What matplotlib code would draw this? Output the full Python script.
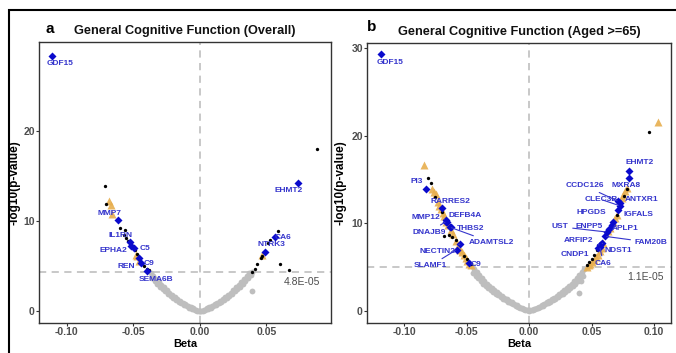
import matplotlib
matplotlib.use("Agg")
import matplotlib.pyplot as plt
from matplotlib.patches import Rectangle

plt.rcParams['font.family'] = ['Liberation Sans', 'DejaVu Sans']

# ---------------- panel a : overall ----------------
a_gray_beta = [-0.037, -0.035, -0.033, -0.031, -0.029, -0.027, -0.025, -0.023, -0.021, -0.019,
               -0.017, -0.015, -0.013, -0.011, -0.009, -0.007, -0.005, -0.003, -0.001, 0.001,
               0.003, 0.005, 0.007, 0.009, 0.011, 0.013, 0.015, 0.017, 0.019, 0.021, 0.023,
               0.025, 0.027, 0.029, 0.031, 0.033, 0.035, 0.037, 0.039,
               -0.036, -0.034, -0.032, -0.030, -0.028, -0.026, -0.024, -0.022, -0.020, -0.018,
               -0.016, -0.014, -0.012, -0.010, -0.008, -0.006, -0.004, -0.002, 0.000, 0.002,
               0.004, 0.006, 0.008, 0.010, 0.012, 0.014, 0.016, 0.018, 0.020, 0.022, 0.024,
               0.026, 0.028, 0.030, 0.032, 0.034, 0.036, 0.038, 0.039]
a_gray_y = [4.25, 3.9, 3.55, 3.25, 2.95, 2.65, 2.35, 2.05, 1.8, 1.58,
            1.37, 1.16, 0.96, 0.78, 0.62, 0.46, 0.31, 0.18, 0.06, 0.06,
            0.18, 0.31, 0.46, 0.62, 0.78, 0.96, 1.16, 1.37, 1.58, 1.8, 2.05,
            2.35, 2.65, 2.95, 3.25, 3.55, 3.9, 4.2, 4.4,
            3.7, 3.35, 3.05, 2.75, 2.45, 2.2, 1.95, 1.7, 1.48, 1.28,
            1.08, 0.9, 0.72, 0.56, 0.42, 0.28, 0.16, 0.07, 0.02, 0.07,
            0.16, 0.28, 0.42, 0.56, 0.72, 0.9, 1.08, 1.28, 1.48, 1.7, 1.95,
            2.2, 2.45, 2.75, 3.05, 3.35, 3.7, 4.0, 2.3]

a_black_beta = [-0.0714, -0.0707, -0.060, -0.0564, -0.057, -0.0555, -0.054, -0.052, -0.049,
                -0.047, -0.0456, -0.0439, -0.042, -0.040, -0.0383,
                0.0877, 0.0589, 0.053, 0.0515, 0.047, 0.046, 0.0426, 0.0414, 0.0389,
                0.0602, 0.0672]
a_black_y = [13.9, 11.9, 9.2, 9.0, 8.5, 8.1, 7.8, 7.5, 6.8,
             6.4, 5.85, 5.2, 5.0, 4.7, 4.55,
             18.0, 8.9, 7.9, 7.6, 6.1, 5.95, 5.3, 4.7, 4.4,
             5.2, 4.6]

a_orange_beta = [-0.0684, -0.067, -0.0664, -0.048, -0.0476, -0.046, 0.0464]
a_orange_y = [12.25, 11.8, 10.85, 6.3, 6.1, 5.6, 6.2]

a_genes = ['GDF15', 'MMP7', 'IL1RN', 'EPHA2', 'C5', 'REN', 'C9', 'SEMA6B',
           'EHMT2', 'CA6', 'NTRK3']
a_gene_beta = [-0.111, -0.0614, -0.0526, -0.0515, -0.0494, -0.0456, -0.0440, -0.0395,
               0.0739, 0.0564, 0.0489]
a_gene_y = [28.4, 10.1, 7.7, 7.3, 7.0, 5.9, 5.4, 4.5, 14.3, 8.3, 6.6]
a_threshold = 4.32
a_threshold_text = '4.8E-05'

# ---------------- panel b : aged >= 65 ----------------
b_gray_beta = [-0.046, -0.044, -0.042, -0.040, -0.038, -0.036, -0.034, -0.032, -0.030, -0.028,
               -0.026, -0.024, -0.022, -0.020, -0.018, -0.016, -0.014, -0.012, -0.010, -0.008,
               -0.006, -0.004, -0.002, 0.000, 0.002, 0.004, 0.006, 0.008, 0.010, 0.012, 0.014,
               0.016, 0.018, 0.020, 0.022, 0.024, 0.026, 0.028, 0.030, 0.032, 0.034, 0.036,
               0.038, 0.040, 0.042, 0.044,
               -0.045, -0.043, -0.041, -0.039, -0.037, -0.035, -0.033, -0.031, -0.029, -0.027,
               -0.025, -0.023, -0.021, -0.019, -0.017, -0.015, -0.013, -0.011, -0.009, -0.007,
               -0.005, -0.003, -0.001, 0.001, 0.003, 0.005, 0.007, 0.009, 0.011, 0.013, 0.015,
               0.017, 0.019, 0.021, 0.023, 0.025, 0.027, 0.029, 0.031, 0.033, 0.035, 0.037,
               0.039, 0.041, 0.043, 0.0416, 0.040]
b_gray_y = [5.1, 4.75, 4.4, 4.05, 3.7, 3.4, 3.1, 2.85, 2.6, 2.35,
            2.1, 1.9, 1.7, 1.5, 1.3, 1.12, 0.95, 0.78, 0.62, 0.47,
            0.33, 0.2, 0.09, 0.02, 0.09, 0.2, 0.33, 0.47, 0.62, 0.78, 0.95,
            1.12, 1.3, 1.5, 1.7, 1.9, 2.1, 2.35, 2.6, 2.85, 3.1, 3.4,
            3.7, 4.05, 4.4, 4.8,
            4.3, 4.0, 3.7, 3.4, 3.1, 2.85, 2.6, 2.35, 2.15, 1.95,
            1.75, 1.55, 1.38, 1.2, 1.05, 0.9, 0.75, 0.6, 0.47, 0.35,
            0.24, 0.14, 0.05, 0.05, 0.14, 0.24, 0.35, 0.47, 0.6, 0.75, 0.9,
            1.05, 1.2, 1.38, 1.55, 1.75, 1.95, 2.15, 2.35, 2.6, 2.85, 3.1,
            3.4, 3.7, 4.0, 3.35, 2.05]

b_black_beta = [-0.081, -0.079, -0.0752, -0.070, -0.066, -0.064, -0.0615, -0.059, -0.068,
                -0.052, -0.050, -0.048, -0.047,
                0.0957, 0.0763, 0.078, 0.046, 0.048, 0.050, 0.052, 0.0545, 0.066, 0.070]
b_black_y = [15.2, 14.6, 13.0, 11.3, 10.0, 8.7, 8.4, 8.1, 8.6,
             6.3, 5.9, 5.5, 5.3,
             20.4, 13.1, 13.9, 5.2, 5.6, 5.9, 6.4, 6.9, 9.9, 11.0]

b_orange_beta = [-0.0845, -0.078, -0.0765, -0.075, -0.0735, -0.072, -0.0705, -0.0695, -0.068,
                 -0.0665, -0.065, -0.063, -0.061, -0.059, -0.057, -0.0555, -0.054, -0.0525,
                 -0.051, -0.0495, -0.048, -0.0465,
                 0.103, 0.0768, 0.078, 0.0755, 0.074, 0.070, 0.0685, 0.067, 0.065, 0.0635,
                 0.0595, 0.058, 0.0565, 0.055, 0.0535, 0.052, 0.0505, 0.049, 0.0475, 0.046]
b_orange_y = [16.7, 13.9, 13.6, 13.3, 12.4, 12.0, 11.6, 11.2, 10.8,
              10.2, 9.8, 9.2, 8.8, 8.0, 7.4, 7.0, 6.7, 6.4,
              6.0, 5.7, 5.4, 5.2,
              21.6, 13.7, 14.0, 13.2, 12.9, 11.0, 10.6, 10.1, 9.5, 9.1,
              7.8, 7.2, 6.8, 6.4, 6.1, 5.8, 5.6, 5.4, 5.2, 5.05]

b_genes = ['GDF15', 'PI3', 'RARRES2', 'MMP12', 'DEFB4A', 'DNAJB9', 'THBS2', 'ADAMTSL2',
           'NECTIN2', 'SLAMF1', 'C9',
           'EHMT2', 'MXRA8', 'CCDC126', 'ANTXR1', 'CLEC3B', 'IGFALS', 'HPGDS', 'APLP1',
           'ENPP5', 'UST', 'FAM20B', 'ARFIP2', 'NDST1', 'CNDP1', 'CA6']
b_gene_beta = [-0.119, -0.0827, -0.0700, -0.0670, -0.0655, -0.0665, -0.0630, -0.0635,
               -0.0557, -0.0580, -0.0485,
               0.080, 0.080, 0.0715, 0.073, 0.0725, 0.0715, 0.0675, 0.066,
               0.064, 0.062, 0.061, 0.0570, 0.0585, 0.0555, 0.0565]
b_gene_y = [29.3, 13.9, 11.7, 10.4, 10.1, 10.2, 9.6, 9.55,
            7.6, 7.0, 5.5,
            16.0, 15.2, 12.5, 12.3, 12.0, 11.5, 10.2, 9.8,
            9.3, 9.0, 8.5, 7.5, 7.7, 7.2, 7.3]
b_threshold = 4.96
b_threshold_text = '1.1E-05'

# label placement (text centre, data coords) -- layout, not data
a_label_pos = [(-0.105, 27.5), (-0.0677, 10.9), (-0.060, 8.45), (-0.0652, 6.7),
               (-0.0414, 6.95), (-0.0551, 5.0), (-0.0383, 5.3), (-0.033, 3.5),
               (0.0664, 13.4), (0.0622, 8.2), (0.0539, 7.45)]
b_label_pos = [(-0.1117, 28.4), (-0.090, 14.8), (-0.063, 12.5), (-0.083, 10.7),
               (-0.051, 10.9), (-0.0805, 9.0), (-0.047, 9.35), (-0.030, 7.8),
               (-0.0738, 6.8), (-0.079, 5.15), (-0.043, 5.3),
               (0.0885, 16.9), (0.0776, 14.3), (0.0442, 14.3), (0.090, 12.7),
               (0.058, 12.7), (0.0875, 11.0), (0.050, 11.2), (0.077, 9.45),
               (0.0483, 9.6), (0.0248, 9.6), (0.0976, 7.8), (0.0395, 8.05),
               (0.0715, 6.9), (0.0368, 6.4), (0.0595, 5.4)]
b_segments = ['MMP12', 'DNAJB9', 'ADAMTSL2', 'SLAMF1', 'NECTIN2', 'CCDC126', 'CLEC3B',
              'UST', 'FAM20B', 'ARFIP2', 'NDST1', 'CA6']

GRAY = '#BEBEBE'
ORANGE = '#E7AE4E'
BLUE = '#0A0ACC'
LABEL_BLUE = '#3535CC'
TXT = '#4D4D4D'


def draw_panel(ax, gb, gy, kb, ky, ob, oy, genes, gene_b, gene_y, lab_pos, segs,
               thr, thr_txt, txt_x, xlim, ylim, yticks, xticks, title):
    ax.axvline(0, color='#C4C4C4', lw=1.3, dashes=(4, 3), zorder=1)
    ax.axhline(thr, color='#C4C4C4', lw=1.3, dashes=(4, 3), zorder=1)
    ax.plot(gb, gy, 'o', color=GRAY, ms=4.2, mec='none', zorder=2)
    ax.plot(ob, oy, '^', color=ORANGE, ms=5.5, mec='none', alpha=0.9, zorder=3)
    ax.plot(kb, ky, 'o', color='black', ms=2.4, mec='none', zorder=4)
    ax.plot(gene_b, gene_y, 'D', color=BLUE, ms=4.4, mec='none', zorder=5)
    for g, b, y, (lx, ly) in zip(genes, gene_b, gene_y, lab_pos):
        if g in segs:
            ax.annotate(g, xy=(b, y), xytext=(lx, ly), fontsize=6, fontweight='bold',
                        color=LABEL_BLUE, ha='center', va='center', zorder=6,
                        arrowprops=dict(arrowstyle='-', color=LABEL_BLUE, lw=0.8,
                                        shrinkA=1, shrinkB=1))
        else:
            ax.text(lx, ly, g, fontsize=6, fontweight='bold', color=LABEL_BLUE,
                    ha='center', va='center', zorder=6)
    ax.text(txt_x, thr - 0.5, thr_txt, fontsize=7.5, color=TXT, ha='right', va='top')
    ax.set_xlim(xlim)
    ax.set_ylim(ylim)
    ax.set_xticks(xticks)
    ax.set_xticklabels(['%.2f' % t for t in xticks])
    ax.set_yticks(yticks)
    for s in ax.spines.values():
        s.set_color('#333333')
        s.set_linewidth(1.0)
    ax.tick_params(colors='#333333', labelcolor=TXT, labelsize=7.5, length=2,
                   width=0.8, pad=1)
    for lab in ax.get_xticklabels() + ax.get_yticklabels():
        lab.set_fontweight('bold')
    ax.set_xlabel('Beta', fontsize=8, fontweight='bold', labelpad=1)
    ax.set_ylabel('-log10(p-value)', fontsize=8.5, fontweight='bold')
    ax.set_title(title, fontsize=9.2, fontweight='bold', pad=6, color='#111111')


fig = plt.figure(figsize=(6.76, 3.53), dpi=100)
ax1 = fig.add_axes([39 / 676, 1 - 323 / 353, 292 / 676, 281 / 353])
ax2 = fig.add_axes([367 / 676, 1 - 323 / 353, 304 / 676, 280 / 353])

draw_panel(ax1, a_gray_beta, a_gray_y, a_black_beta, a_black_y, a_orange_beta, a_orange_y,
           a_genes, a_gene_beta, a_gene_y, a_label_pos, [], a_threshold, a_threshold_text,
           0.0905, (-0.121, 0.0985), (-1.3, 29.9), [0, 10, 20], [-0.10, -0.05, 0.00, 0.05],
           'General Cognitive Function (Overall)')
draw_panel(ax2, b_gray_beta, b_gray_y, b_black_beta, b_black_y, b_orange_beta, b_orange_y,
           b_genes, b_gene_beta, b_gene_y, b_label_pos, b_segments, b_threshold,
           b_threshold_text, 0.1075, (-0.130, 0.1136), (-1.4, 30.6), [0, 10, 20, 30],
           [-0.10, -0.05, 0.00, 0.05, 0.10], 'General Cognitive Function (Aged >=65)')
ax1.yaxis.set_label_coords(-0.064, 0.5)
ax2.yaxis.set_label_coords(-0.069, 0.5)

fig.text(50 / 676, 1 - 29 / 353, 'a', fontsize=11, fontweight='bold', ha='center', va='center')
fig.text(372 / 676, 1 - 27 / 353, 'b', fontsize=11, fontweight='bold', ha='center', va='center')

fig.add_artist(Rectangle((9 / 676, -0.1), 1.2, 1.1 - 10 / 353, transform=fig.transFigure,
                         fill=False, edgecolor='black', lw=1.5))

fig.savefig('out.png', dpi=100)
